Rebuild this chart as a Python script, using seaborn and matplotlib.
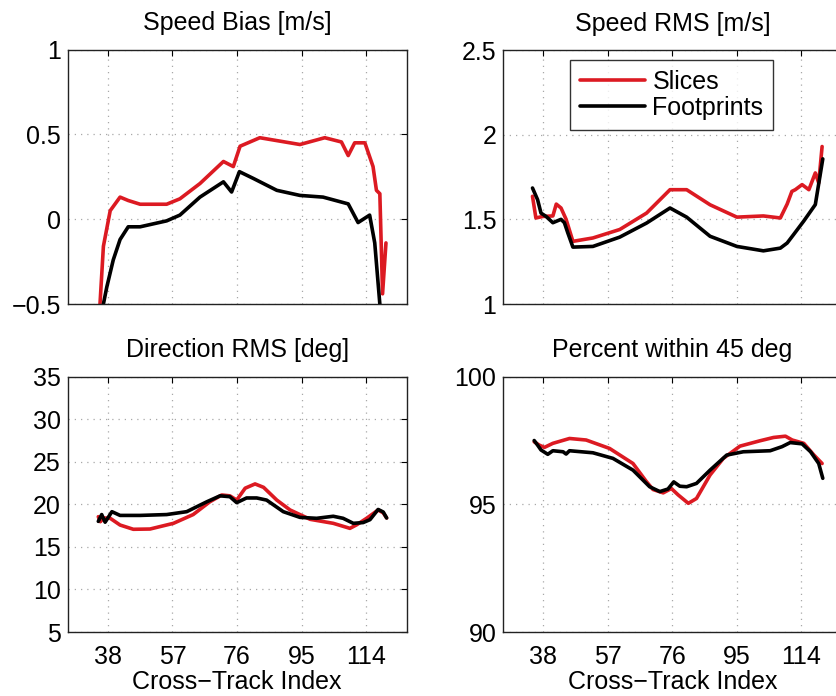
import numpy as np
import pandas as pd
import matplotlib
matplotlib.use("Agg")
import matplotlib.pyplot as plt
import seaborn as sns
from matplotlib.ticker import FuncFormatter, FixedLocator

# ---------------- data ----------------
x_ticks = [38, 57, 76, 95, 114]

bias_slices_x = [35.7, 36.7, 38.7, 41.6, 44.0, 47.5, 55.3, 59.2, 65.1, 72.0, 74.9, 76.9, 82.7, 94.5,
                 101.8, 106.7, 108.7, 110.6, 113.6, 116.0, 117.0, 118.0, 118.8, 119.8]
bias_slices_y = [-0.50, -0.16, 0.05, 0.13, 0.11, 0.088, 0.088, 0.12, 0.21, 0.34, 0.31, 0.43, 0.48, 0.44,
                 0.48, 0.455, 0.375, 0.45, 0.45, 0.31, 0.17, 0.15, -0.44, -0.14]
bias_foot_x = [36.7, 37.7, 39.6, 41.6, 44.0, 47.5, 55.3, 59.2, 65.1, 72.0, 74.4, 76.7, 80.8, 87.7,
               94.5, 101.3, 108.7, 111.6, 115.0, 116.5, 118.0]
bias_foot_y = [-0.50, -0.40, -0.24, -0.12, -0.045, -0.045, -0.01, 0.024, 0.13, 0.22, 0.16, 0.28, 0.24, 0.17,
               0.14, 0.13, 0.09, -0.02, 0.024, -0.14, -0.50]

rms_slices_x = [34.8, 35.8, 37.8, 40.8, 41.8, 43.2, 44.7, 46.7, 52.6, 60.5, 68.4, 75.3, 80.2, 87.1,
                95.0, 102.8, 107.8, 109.8, 111.2, 112.2, 114.2, 116.2, 118.1, 119.1, 120.1]
rms_slices_y = [1.636, 1.508, 1.517, 1.52, 1.59, 1.567, 1.50, 1.37, 1.39, 1.44, 1.537, 1.675, 1.675, 1.586,
                1.513, 1.52, 1.508, 1.59, 1.665, 1.675, 1.705, 1.675, 1.774, 1.715, 1.93]
rms_foot_x = [34.8, 36.3, 37.3, 38.8, 40.8, 43.2, 44.2, 45.2, 46.7, 52.6, 60.5, 68.4, 75.3, 80.2,
              87.1, 95.0, 102.8, 107.8, 109.8, 111.7, 114.7, 118.1, 120.3]
rms_foot_y = [1.685, 1.616, 1.537, 1.517, 1.48, 1.50, 1.48, 1.42, 1.336, 1.34, 1.395, 1.478, 1.567, 1.513,
              1.40, 1.34, 1.314, 1.33, 1.36, 1.41, 1.49, 1.587, 1.857]

dir_slices_x = [35.2, 35.8, 36.8, 38.7, 41.6, 45.5, 50.4, 57.3, 63.1, 68.0, 71.5, 73.9, 75.9, 78.4,
                81.3, 83.8, 87.7, 91.6, 97.5, 104.3, 109.2, 111.2, 114.1, 117.5, 119.0, 120.0]
dir_slices_y = [18.55, 17.96, 18.4, 18.36, 17.57, 17.07, 17.1, 17.77, 18.8, 20.3, 21.1, 21.0, 20.5, 21.9,
                22.4, 22.0, 20.5, 19.34, 18.24, 17.77, 17.18, 17.6, 18.36, 19.34, 19.0, 18.4]
dir_foot_x = [35.2, 36.2, 37.2, 39.2, 41.6, 47.5, 55.3, 61.2, 67.1, 71.0, 73.9, 75.9, 78.8, 81.8,
              84.7, 89.6, 94.5, 99.4, 104.3, 107.2, 110.2, 113.1, 115.1, 117.5, 119.0, 120.0]
dir_foot_y = [18.0, 18.8, 17.9, 19.14, 18.7, 18.7, 18.8, 19.14, 20.3, 21.0, 20.9, 20.2, 20.75, 20.75,
              20.5, 19.14, 18.47, 18.36, 18.6, 18.36, 17.77, 17.86, 18.2, 19.4, 19.1, 18.4]

pct_slices_x = [35.3, 36.8, 38.3, 40.8, 45.7, 50.6, 57.5, 64.4, 68.3, 70.3, 73.3, 75.7, 77.7, 80.7,
                83.1, 87.1, 91.0, 95.9, 101.8, 105.8, 109.3, 111.3, 114.7, 117.7, 120.1]
pct_slices_y = [97.45, 97.32, 97.23, 97.39, 97.58, 97.52, 97.19, 96.6, 95.9, 95.58, 95.45, 95.62, 95.37, 95.04,
                95.23, 96.15, 96.8, 97.28, 97.49, 97.62, 97.67, 97.52, 97.39, 96.93, 96.6]
pct_foot_x = [35.3, 36.3, 37.3, 39.3, 40.8, 43.8, 44.7, 45.7, 52.6, 58.5, 64.4, 69.3, 72.3, 74.7,
              76.4, 78.2, 80.2, 83.1, 87.1, 92.0, 96.9, 104.8, 108.3, 110.7, 114.2, 116.7, 119.1, 120.3]
pct_foot_y = [97.5, 97.32, 97.13, 96.96, 97.1, 97.06, 96.97, 97.1, 97.02, 96.8, 96.34, 95.69, 95.5, 95.6,
              95.88, 95.71, 95.69, 95.82, 96.34, 96.93, 97.06, 97.1, 97.26, 97.42, 97.37, 97.06, 96.6, 96.02]

titles = ["Speed Bias [m/s]", "Speed RMS [m/s]", "Direction RMS [deg]", "Percent within 45 deg"]
ylims = [(-0.5, 1), (1, 2.5), (5, 35), (90, 100)]
yticks = [[-0.5, 0, 0.5, 1], [1, 1.5, 2, 2.5], [5, 10, 15, 20, 25, 30, 35], [90, 95, 100]]
series_names = ["Slices", "Footprints"]
xlabel = "Cross\u2212Track Index"

# ---------------- style ----------------
sns.set_theme(style="white")
plt.rcParams["font.family"] = ["Liberation Sans", "DejaVu Sans"]
plt.rcParams["axes.unicode_minus"] = True
plt.rcParams["text.color"] = "black"
plt.rcParams["axes.labelcolor"] = "black"
plt.rcParams["xtick.color"] = "black"
plt.rcParams["ytick.color"] = "black"

RED = "#dc1a22"
BLACK = "#000000"
FS = 18

fig = plt.figure(figsize=(8.36, 6.96), dpi=100)
W, H = 836, 696
def px_axes(l, t, r, b):
    return fig.add_axes([l / W, 1 - b / H, (r - l) / W, (b - t) / H])

axes = [
    px_axes(67.7, 49.5, 406.7, 304),
    px_axes(503.3, 50.0, 841.8, 304),
    px_axes(67.7, 376.7, 406.7, 632),
    px_axes(503.3, 376.7, 841.8, 632),
]

data = [
    ((bias_slices_x, bias_slices_y), (bias_foot_x, bias_foot_y)),
    ((rms_slices_x, rms_slices_y), (rms_foot_x, rms_foot_y)),
    ((dir_slices_x, dir_slices_y), (dir_foot_x, dir_foot_y)),
    ((pct_slices_x, pct_slices_y), (pct_foot_x, pct_foot_y)),
]

fmt = FuncFormatter(lambda v, p: ("%g" % v).replace("-", "\u2212"))

for i, ax in enumerate(axes):
    (sx, sy), (fx, fy) = data[i]
    df_s = pd.DataFrame({"x": sx, "y": sy})
    df_f = pd.DataFrame({"x": fx, "y": fy})
    sns.lineplot(data=df_s, x="x", y="y", ax=ax, color=RED, lw=2.6,
                 label=series_names[0], sort=False, estimator=None)
    sns.lineplot(data=df_f, x="x", y="y", ax=ax, color=BLACK, lw=2.6,
                 label=series_names[1], sort=False, estimator=None)
    ax.set_xlim(26.2, 125.9)
    ax.set_ylim(*ylims[i])
    ax.xaxis.set_major_locator(FixedLocator(x_ticks))
    ax.yaxis.set_major_locator(FixedLocator(yticks[i]))
    ax.yaxis.set_major_formatter(fmt)
    ax.grid(True, color="#a8a8a8", ls=(0, (1, 4)), lw=0.9)
    ax.tick_params(direction="in", length=4, width=0.8, top=True, right=True,
                   labelsize=FS, colors="black")
    ax.tick_params(axis="y", pad=5)
    ax.tick_params(axis="x", pad=9)
    for s in ax.spines.values():
        s.set_color("#222222")
        s.set_linewidth(1.0)
        s.set_visible(True)
    ax.set_title(titles[i], fontsize=FS, pad=14, color="black")
    ax.set_ylabel("")
    if i < 2:
        ax.set_xlabel("")
        ax.tick_params(labelbottom=False)
    else:
        ax.set_xlabel(xlabel, fontsize=FS, labelpad=1, color="black")
    if i == 1:
        leg = ax.legend(loc="upper left", bbox_to_anchor=(0.197, 0.962), borderaxespad=0,
                        fontsize=FS, frameon=True, fancybox=False, handlelength=2.6,
                        handletextpad=0.3, borderpad=0.4, labelspacing=0.1)
        leg.get_frame().set_edgecolor("black")
        leg.get_frame().set_linewidth(1.0)
        for t in leg.get_texts():
            t.set_color("black")
    else:
        lg = ax.get_legend()
        if lg is not None:
            lg.remove()

fig.savefig("out.png", dpi=100)
